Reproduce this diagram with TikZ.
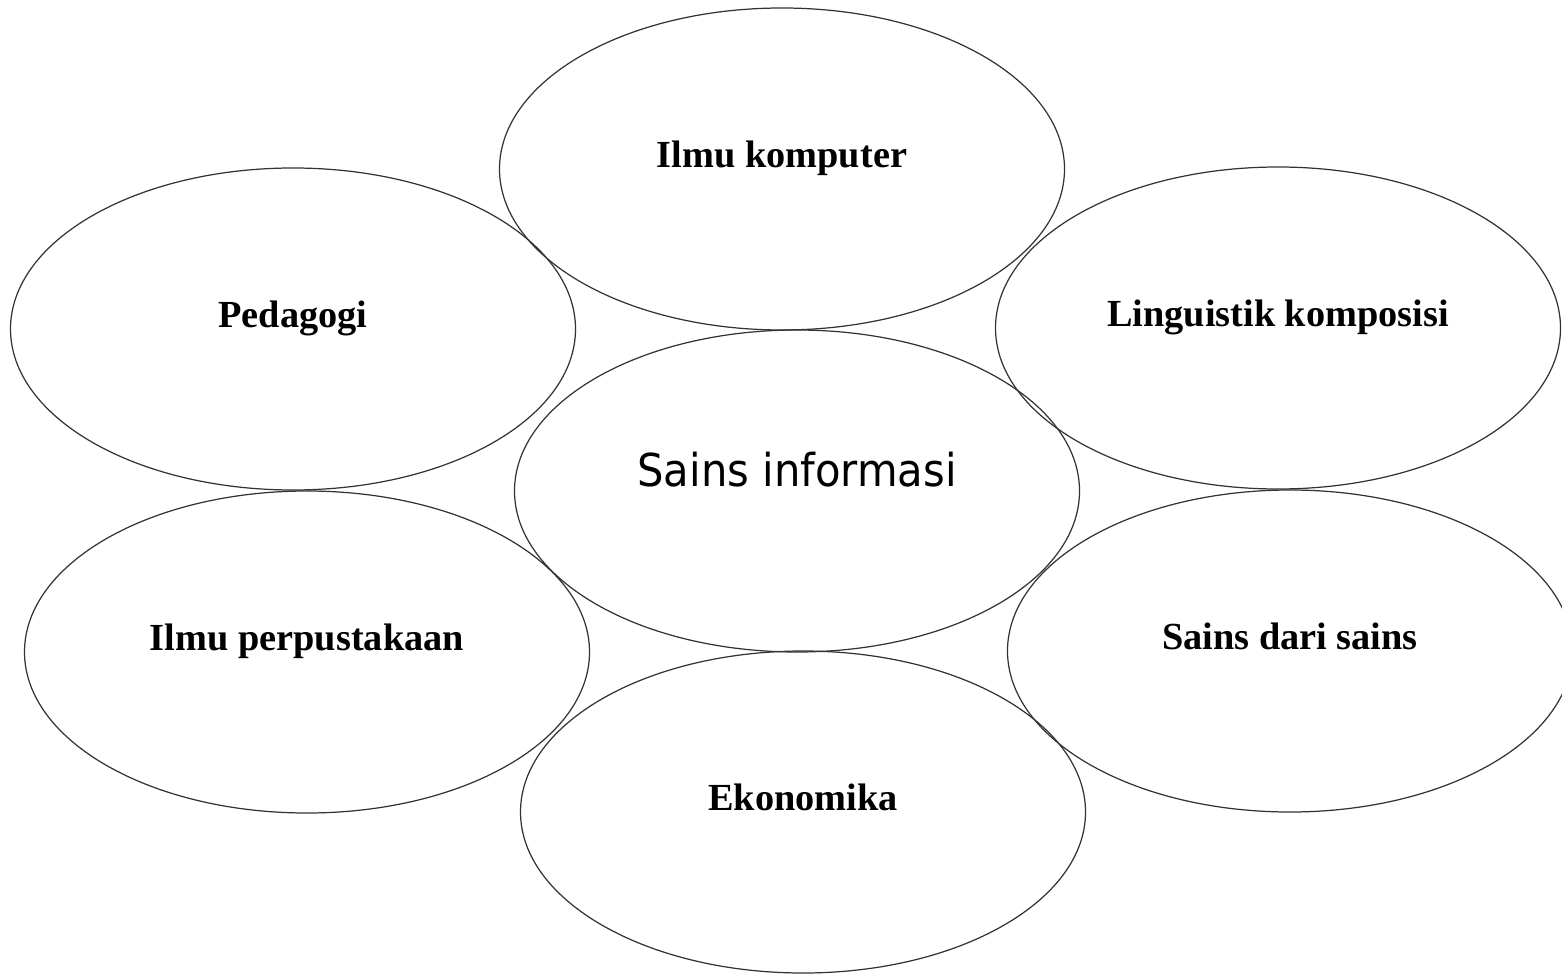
\documentclass[tikz,border=0pt]{standalone}
\usepackage{fontspec}
\setmainfont{Liberation Serif}
\newfontfamily\infofont[FakeStretch=0.92]{DejaVu Sans}
\usetikzlibrary{shapes}
\tikzstyle{oval} = [draw=black!80, line width=0.35pt, ellipse, minimum width=5.65cm, minimum height=3.22cm, inner sep=0pt, text depth=0.3cm, font=\fontsize{10.9pt}{13pt}\selectfont\bfseries]
\tikzstyle{mainoval} = [oval, text depth=0.44cm, font=\fontsize{12.9pt}{15pt}\infofont]

\begin{document}
\begin{tikzpicture}
	\useasboundingbox (0,0) rectangle (15.62,9.75);
	\node [mainoval] (info) at (7.97,4.84) {Sains informasi};
	\node [oval] (komputer) at (7.82,8.06) {Ilmu komputer};
	\node [oval] (pedagogi) at (2.93,6.46) {Pedagogi};
	\node [oval] (linguistik) at (12.78,6.47) {Linguistik komposisi};
	\node [oval] (perpustakaan) at (3.07,3.23) {Ilmu perpustakaan};
	\node [oval] (sains) at (12.90,3.24) {Sains dari sains};
	\node [oval] (ekonomika) at (8.03,1.63) {Ekonomika};
\end{tikzpicture}
\end{document}
